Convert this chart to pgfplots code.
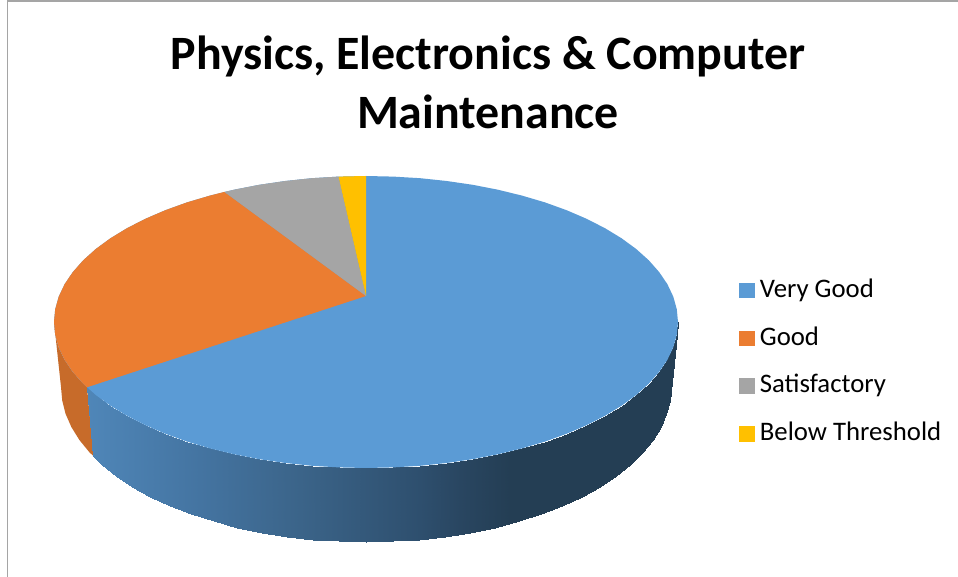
\documentclass[border=0pt]{standalone}
\usepackage{fontspec}
\setmainfont{Carlito}
\usepackage{pgfplots}
\pgfplotsset{compat=1.18}
\definecolor{vgood}{HTML}{5B9BD5}
\definecolor{good}{HTML}{EB7D31}
\definecolor{satis}{HTML}{A5A5A5}
\definecolor{belowthr}{HTML}{FFC000}
\definecolor{goodside}{HTML}{C76B2A}
\definecolor{frame}{HTML}{A5A5A5}
\begin{document}
\begin{tikzpicture}
\path[use as bounding box] (0,0) rectangle (958pt,577pt);
\begin{axis}[
  at={(0,0)}, anchor=south west,
  scale only axis, width=958pt, height=577pt,
  xmin=0, xmax=958, ymin=0, ymax=577, y dir=reverse,
  hide axis,
  colormap={blueside}{rgb255(88)=(79,134,184) rgb255(200)=(68,116,161) rgb255(300)=(59,100,137) rgb255(420)=(46,79,110) rgb255(460)=(41,70,97) rgb255(510)=(36,62,84) rgb255(678)=(36,62,84)},
  point meta min=88, point meta max=678,
  legend cell align=left,
  legend style={at={(0.7717,0.5233)}, anchor=north west, draw=none, fill=none,
    font=\fontsize{26.75}{30}\selectfont, row sep=17.8pt, inner sep=0pt,
    nodes={text height=20pt, text depth=6pt}},
]
% outer frame
\addplot[frame, line width=1.5pt, forget plot] coordinates {(7.5,577) (7.5,1) (958,1)};

% side of the pie, good
\addplot[fill=goodside, draw=none, forget plot] coordinates {
  (54,322) (55.2,334.7) (58.7,347.3) (64.6,359.8) (72.8,371.9) (83.2,383.7) (87,387.3)
  (93.5,456) (89.6,452.5) (79.4,440) (71.4,427.1) (65.6,413.9) (62.2,400.5) (61,387)
} -- cycle;

% side of the pie, very good: upper edge, then lower edge
\addplot[surf, shader=interp, mesh/rows=2, mesh/cols=32, point meta=x, forget plot] coordinates {
  (87,387.3) (95.8,395) (110.4,405.7) (127,415.8) (145.4,425.2) (165.4,433.8) (187,441.6) (210,448.4)
  (234.1,454.3) (259.3,459.2) (285.3,463) (311.8,465.8) (338.8,467.4) (366,468) (393.2,467.4) (420.2,465.8)
  (446.7,463) (472.7,459.2) (497.9,454.3) (522,448.4) (545,441.6) (566.6,433.8) (586.6,425.2) (605,415.8)
  (621.6,405.7) (636.2,395) (648.8,383.7) (659.2,371.9) (667.4,359.8) (673.3,347.3) (676.8,334.7) (678,322)

  (93.5,456) (101.9,464.5) (116.1,475.9) (132.4,486.6) (150.3,496.6) (169.9,505.7) (191.1,514) (213.5,521.2)
  (237.1,527.5) (261.7,532.7) (287.1,536.7) (313.1,539.6) (339.4,541.4) (366,542) (392.6,541.4) (418.9,539.6)
  (444.9,536.7) (470.3,532.7) (494.9,527.5) (518.5,521.2) (540.9,514) (562.1,505.7) (581.7,496.6) (599.6,486.6)
  (615.9,475.9) (630.1,464.5) (642.4,452.5) (652.6,440) (660.6,427.1) (666.4,413.9) (669.8,400.5) (671,387)
};

% top face: whole ellipse in blue, the other slices over it
\addplot[fill=vgood, draw=none, forget plot] coordinates {
  (678,322) (676.8,309.3) (673.3,296.7) (667.4,284.2) (659.2,272.1) (648.8,260.3) (636.2,249) (621.6,238.3)
  (605,228.2) (586.6,218.8) (566.6,210.2) (545,202.4) (522,195.6) (497.9,189.7) (472.7,184.8) (446.7,181)
  (420.2,178.2) (393.2,176.6) (366,176) (338.8,176.6) (311.8,178.2) (285.3,181) (259.3,184.8) (234.1,189.7)
  (210,195.6) (187,202.4) (165.4,210.2) (145.4,218.8) (127,228.2) (110.4,238.3) (95.8,249) (83.2,260.3)
  (72.8,272.1) (64.6,284.2) (58.7,296.7) (55.2,309.3) (54,322) (55.2,334.7) (58.7,347.3) (64.6,359.8)
  (72.8,371.9) (83.2,383.7) (95.8,395) (110.4,405.7) (127,415.8) (145.4,425.2) (165.4,433.8) (187,441.6)
  (210,448.4) (234.1,454.3) (259.3,459.2) (285.3,463) (311.8,465.8) (338.8,467.4) (366,468) (393.2,467.4)
  (420.2,465.8) (446.7,463) (472.7,459.2) (497.9,454.3) (522,448.4) (545,441.6) (566.6,433.8) (586.6,425.2)
  (605,415.8) (621.6,405.7) (636.2,395) (648.8,383.7) (659.2,371.9) (667.4,359.8) (673.3,347.3) (676.8,334.7)
} -- cycle;
\addplot[fill=good, draw=none, forget plot] coordinates {
  (366,296) (224.4,191.9) (210,195.6) (187,202.4) (165.4,210.2) (145.4,218.8) (127,228.2) (110.4,238.3)
  (95.8,249) (83.2,260.3) (72.8,272.1) (64.6,284.2) (58.7,296.7) (55.2,309.3) (54,322) (55.2,334.7)
  (58.7,347.3) (64.6,359.8) (72.8,371.9) (83.2,383.7) (87,387.3)
} -- cycle;
\addplot[fill=satis, draw=none, forget plot] coordinates {
  (366,296) (338.5,176.6) (311.8,178.2) (285.3,181) (259.3,184.8) (234.1,189.7) (224.4,191.9)
} -- cycle;
\addplot[fill=belowthr, draw=none, forget plot] coordinates {
  (366,296) (366,176) (338.5,176.6)
} -- cycle;

\addlegendimage{only marks, mark=square*, mark size=7.2pt, vgood, mark options={fill=vgood, line width=0.5pt}}
\addlegendentry{\hspace{4pt}Very Good}
\addlegendimage{only marks, mark=square*, mark size=7.2pt, good, mark options={fill=good, line width=0.5pt}}
\addlegendentry{\hspace{4pt}Good}
\addlegendimage{only marks, mark=square*, mark size=7.2pt, satis, mark options={fill=satis, line width=0.5pt}}
\addlegendentry{\hspace{4pt}Satisfactory}
\addlegendimage{only marks, mark=square*, mark size=7.2pt, belowthr, mark options={fill=belowthr, line width=0.5pt}}
\addlegendentry{\hspace{4pt}Below Threshold}

\node[align=center, font=\fontsize{47.9}{59}\selectfont\bfseries, anchor=center] at (axis cs:488,82)
  {Physics, Electronics \& Computer\\Maintenance};
\end{axis}
\end{tikzpicture}
\end{document}
